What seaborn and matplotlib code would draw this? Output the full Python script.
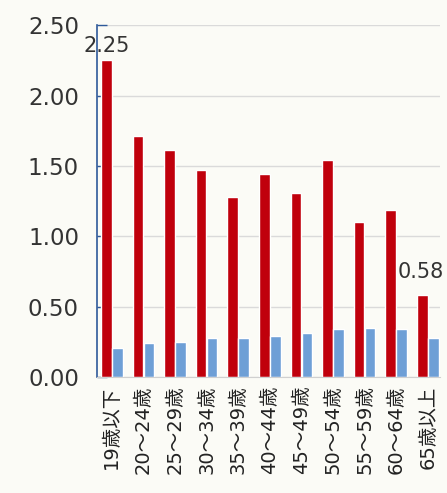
import matplotlib
matplotlib.use("Agg")
import matplotlib.pyplot as plt
import pandas as pd
import seaborn as sns

AGE_GROUPS = ["19歳以下", "20～24歳", "25～29歳", "30～34歳", "35～39歳", "40～44歳",
              "45～49歳", "50～54歳", "55～59歳", "60～64歳", "65歳以上"]
RED_VALUES = [2.25, 1.71, 1.61, 1.47, 1.28, 1.44, 1.31, 1.54, 1.10, 1.19, 0.58]
BLUE_VALUES = [0.21, 0.24, 0.25, 0.28, 0.28, 0.29, 0.31, 0.34, 0.35, 0.34, 0.28]
SERIES = ["系列1", "系列2"]
Y_TICKS = [0.0, 0.5, 1.0, 1.5, 2.0, 2.5]
LABELLED = {0: "2.25", 10: "0.58"}

# offsets (points) of the value labels above their bars
LABEL_OFFSETS = {0: (0, 3), 10: (-1, 10)}

RED = "#C0000C"
BLUE = "#6E9FD6"
BG = "#FBFBF6"


def build_frame() -> pd.DataFrame:
    rows = []
    for age, r, b in zip(AGE_GROUPS, RED_VALUES, BLUE_VALUES):
        rows.append({"age": age, "series": SERIES[0], "value": r})
        rows.append({"age": age, "series": SERIES[1], "value": b})
    return pd.DataFrame(rows)


def main() -> None:
    sns.set_style("white")
    plt.rcParams["font.family"] = ["DejaVu Sans", "Noto Sans CJK JP"]

    df = build_frame()
    fig = plt.figure(figsize=(4.47, 4.93), dpi=100, facecolor=BG)
    ax = fig.add_axes([0.217, 0.235, 0.767, 0.714])
    ax.set_facecolor(BG)

    sns.barplot(data=df, x="age", y="value", hue="series", hue_order=SERIES,
                palette=[RED, BLUE], width=0.7, gap=0.04, ax=ax,
                legend=False, saturation=1)

    ax.set_ylim(0, 2.5)
    ax.set_xlim(-0.47, len(AGE_GROUPS) - 1 + 0.38)
    ax.set_yticks(Y_TICKS)
    ax.set_yticklabels([f"{t:.2f}" for t in Y_TICKS], fontsize=16.5, color="#333333")
    ax.set_xticks(range(len(AGE_GROUPS)))
    ax.set_xticklabels(AGE_GROUPS, rotation=90, fontsize=14, color="#222222",
                       va="top", ha="center")
    ax.set_xlabel("")
    ax.set_ylabel("")

    ax.yaxis.grid(True, color="#DADADA", linewidth=1)
    ax.set_axisbelow(True)
    ax.tick_params(axis="y", direction="in", length=7, width=1,
                   color="#2E5A9A", pad=13, left=True)
    ax.tick_params(axis="x", length=0, pad=6)

    for side in ["top", "right"]:
        ax.spines[side].set_visible(False)
    ax.spines["left"].set_color("#2E5A9A")
    ax.spines["left"].set_linewidth(1.2)
    ax.spines["bottom"].set_color("#D0D0D0")

    red_bars = ax.patches[:len(AGE_GROUPS)]
    for i, text in LABELLED.items():
        bar = red_bars[i]
        x = bar.get_x() + bar.get_width() / 2
        ax.annotate(text, (x, bar.get_height()), xytext=LABEL_OFFSETS[i],
                    textcoords="offset points", ha="center", va="bottom",
                    fontsize=15, color="#333333", annotation_clip=False)

    fig.savefig("out.png", dpi=100, facecolor=BG)
    plt.close(fig)


if __name__ == "__main__":
    main()
